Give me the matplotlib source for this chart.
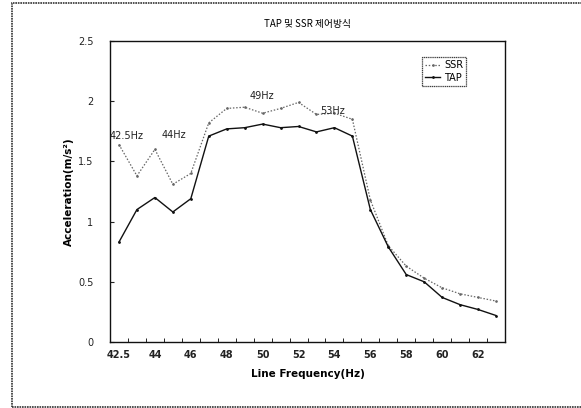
import matplotlib.pyplot as plt
from matplotlib.patches import Rectangle

plt.rcParams['font.family'] = ['DejaVu Sans', 'Noto Sans CJK KR']

# category axis: 42.5 Hz, then 43 .. 63 Hz
freqs = ["42.5", "43", "44", "45", "46", "47", "48", "49", "50", "51", "52",
         "53", "54", "55", "56", "57", "58", "59", "60", "61", "62", "63"]
ssr = [1.64, 1.38, 1.60, 1.31, 1.40, 1.82, 1.94, 1.95, 1.90, 1.94, 1.99,
       1.89, 1.90, 1.85, 1.18, 0.80, 0.63, 0.53, 0.45, 0.40, 0.37, 0.34]
tap = [0.83, 1.10, 1.20, 1.08, 1.19, 1.71, 1.77, 1.78, 1.81, 1.78, 1.79,
       1.745, 1.78, 1.71, 1.10, 0.79, 0.56, 0.50, 0.37, 0.31, 0.27, 0.22]
notes = ["42.5Hz", "44Hz", "49Hz", "53Hz"]
note_x = [-0.5, 3.05, 7.95, 11.9]
note_y = [1.71, 1.72, 2.04, 1.92]

fig = plt.figure(figsize=(5.81, 4.08), dpi=100)
ax = fig.add_axes([110 / 581, 1 - 342 / 408, 395 / 581, 301 / 408])

# outer chart frame
fig.patches.append(Rectangle((12 / 581, 1 / 408), 575 / 581, 404 / 408,
                             transform=fig.transFigure, fill=False,
                             edgecolor="#333333", lw=1.2, ls=(0, (1, 0.5))))

idx = list(range(len(freqs)))
ax.plot(idx, ssr, color="#666666", lw=0.9, ls=(0, (1.2, 1.4)),
        marker=".", ms=1.8, label="SSR")
ax.plot(idx, tap, color="#111111", lw=1.0, marker=".", ms=2, label="TAP")

for t, x, y in zip(notes, note_x, note_y):
    ax.text(x, y, t, fontsize=7, ha="left" if t == "42.5Hz" else "center",
            va="center", color="#222222")

ax.set_xlim(-0.5, len(freqs) - 0.5)
ax.set_ylim(0, 2.5)
ax.set_xticks(idx[::2])
ax.set_xticklabels(freqs[::2])
ax.set_xticks([i + 0.5 for i in idx[:-1]], minor=True)
ax.set_yticks([0, 0.5, 1, 1.5, 2, 2.5])
ax.set_yticklabels(["0", "0.5", "1", "1.5", "2", "2.5"])
ax.tick_params(axis="both", labelsize=7, direction="in", length=3,
               width=0.8, colors="#222222")
ax.tick_params(axis="x", which="major", length=0, pad=6)
ax.tick_params(axis="x", which="minor", direction="in", length=3)
ax.tick_params(axis="y", pad=12)
for lab in ax.get_xticklabels():
    lab.set_fontweight("bold")
for s in ax.spines.values():
    s.set_linewidth(1.0)
    s.set_color("#111111")

ax.set_xlabel("Line Frequency(Hz)", fontsize=7.5, fontweight="bold",
              labelpad=6)
ax.set_ylabel("Acceleration(m/s²)", fontsize=7.5, fontweight="bold",
              labelpad=3)
ax.set_title("TAP 및 SSR 제어방식", fontsize=7, pad=10,
             family=["Noto Sans CJK KR", "DejaVu Sans"])

leg = ax.legend(loc="upper left", bbox_to_anchor=(422 / 581, 1 - 57 / 408),
                bbox_transform=fig.transFigure, fontsize=7, frameon=True,
                fancybox=False, handlelength=1.6, handletextpad=0.4,
                borderpad=0.3, labelspacing=0.3, borderaxespad=0)
leg.get_frame().set_edgecolor("#111111")
leg.get_frame().set_linestyle((0, (1, 0.5)))
leg.get_frame().set_linewidth(0.9)

plt.savefig("out.png", dpi=100)
